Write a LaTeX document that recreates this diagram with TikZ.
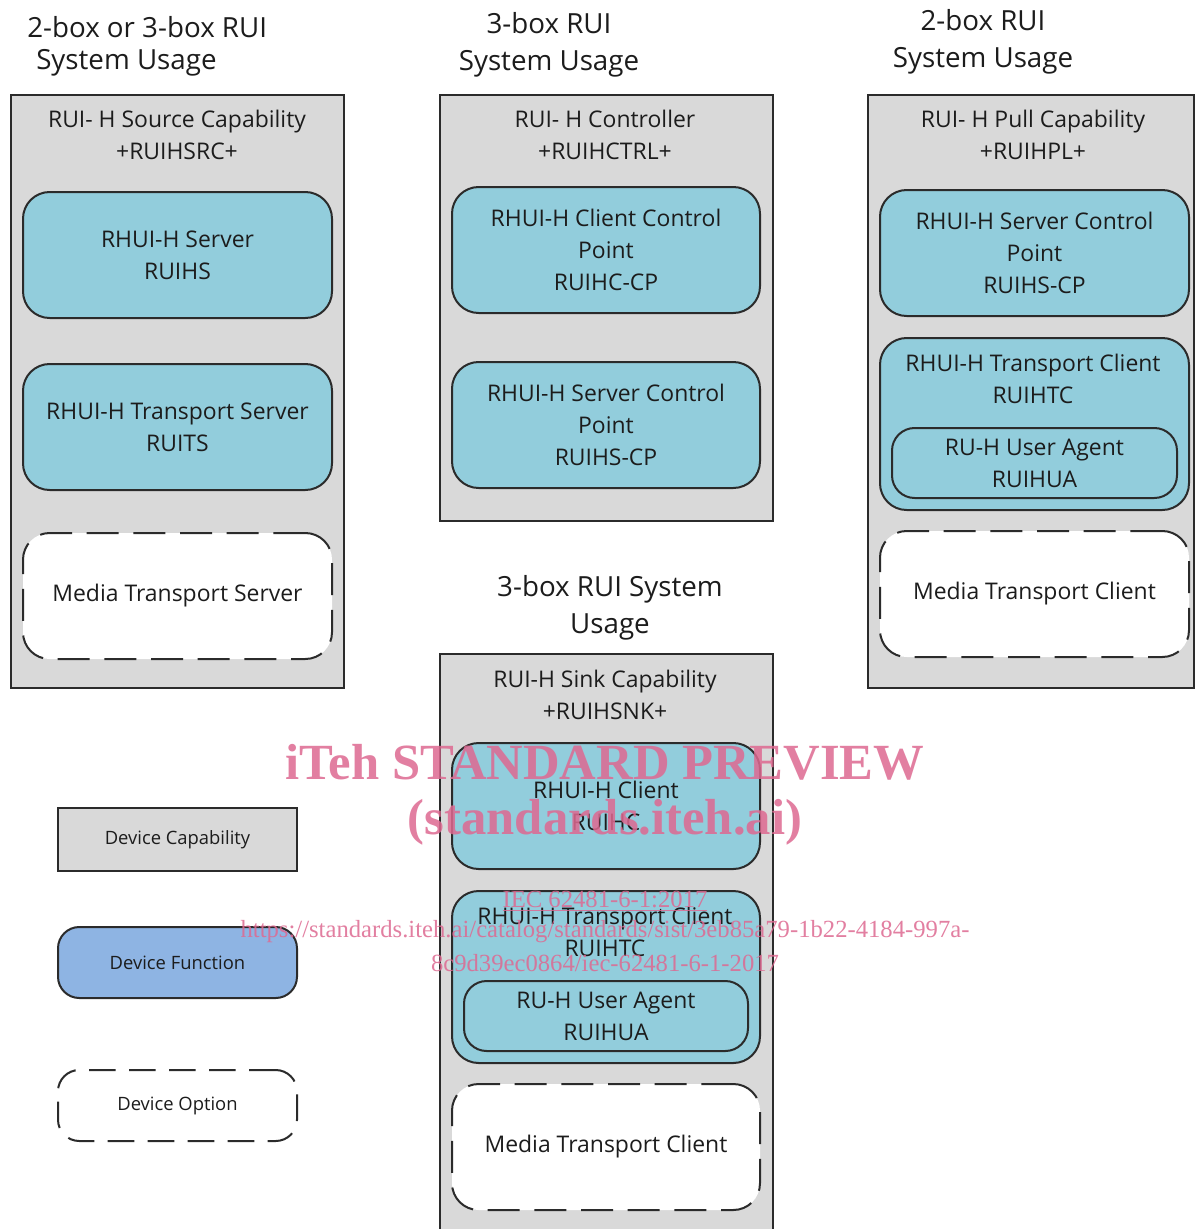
\documentclass[tikz,border=0pt]{standalone}
\usepackage{fontspec}
\setmainfont{Open Sans}
\newfontfamily\wmfont{Liberation Serif}
\definecolor{capgray}{HTML}{D9D9D9}
\definecolor{fnteal}{HTML}{92CDDC}
\definecolor{fnblue}{HTML}{8EB4E3}
\definecolor{edge}{HTML}{2B2B2B}
\definecolor{txt}{HTML}{1C1C1C}
\definecolor{wm}{RGB}{222,105,145}
\begin{document}
\begin{tikzpicture}[x=0.75pt,y=-0.75pt,
  wh/.style 2 args={minimum width=#1*0.75pt, minimum height=#2*0.75pt, inner sep=0pt},
  capbox/.style={draw=edge, line width=1.2pt, fill=capgray, rectangle},
  fnbox/.style={draw=edge, line width=1.5pt, fill=fnteal, rounded corners=20pt},
  subbox/.style={draw=edge, line width=1.5pt, fill=fnteal, rounded corners=17pt},
  optbox/.style={draw=edge, line width=1.5pt, fill=white, rounded corners=20pt, dash pattern=on 24pt off 11pt},
  title/.style={font=\fontsize{20.8}{28}\selectfont, text=txt, align=center, inner sep=0pt},
  head/.style={font=\fontsize{17.2}{24}\selectfont, text=txt, align=center, inner sep=0pt},
  body/.style={font=\fontsize{17.2}{24}\selectfont, text=txt, align=center, inner sep=0pt},
  leg/.style={font=\fontsize{13.8}{16}\selectfont, text=txt, align=center, inner sep=0pt},
  wmbig/.style={font=\wmfont\bfseries\fontsize{38}{44}\selectfont, text=wm, opacity=0.85, inner sep=0pt},
  wmsmall/.style={font=\wmfont\fontsize{18.5}{22}\selectfont, text=wm, opacity=0.85, inner sep=0pt}
]
\useasboundingbox (0,0) rectangle (1195,1229);
\clip (0,0) rectangle (1195,1229);
\fill[white] (0,0) rectangle (1195,1229);

% ---------- Titles ----------
\node[title, anchor=west] (t1a) at (27,27) {2-box or 3-box RUI};
\node[title, anchor=west] (t1b) at (36,63) {System Usage};
\node[title] (t2) at (549,45) {3-box RUI\\System Usage};
\node[title] (t3) at (983,42) {2-box RUI\\System Usage};
\node[title] (t4) at (610,608) {3-box RUI System\\Usage};

% ---------- Capability 1: Source ----------
\node[capbox, wh={333}{593}] (src) at (177.5,391.5) {};
\node[head] (srch) at (177,135) {RUI- H Source Capability\\+RUIHSRC+};
\node[fnbox, wh={309}{126}, body] (ruihs) at (177.5,255) {RHUI-H Server\\RUIHS};
\node[fnbox, wh={309}{126}, body] (ruits) at (177.5,427) {RHUI-H Transport Server\\RUITS};
\node[optbox, wh={309}{126}, body] (mts) at (177.5,596) {Media Transport Server};

% ---------- Controller ----------
\node[capbox, wh={333}{426}] (ctrl) at (606.5,308) {};
\node[head] (ctrlh) at (605,135) {RUI- H Controller\\+RUIHCTRL+};
\node[fnbox, wh={308}{126}, body] (ruihccp) at (606,250) {RHUI-H Client Control\\Point\\RUIHC-CP};
\node[fnbox, wh={308}{126}, body] (ruihscp) at (606,425) {RHUI-H Server Control\\Point\\RUIHS-CP};

% ---------- Pull capability ----------
\node[capbox, wh={326}{593}] (pull) at (1031,391.5) {};
\node[head] (pullh) at (1033,135) {RUI- H Pull Capability\\+RUIHPL+};
\node[fnbox, wh={309}{126}, body] (pcp) at (1034.5,253) {RHUI-H Server Control\\Point\\RUIHS-CP};
\node[fnbox, wh={309}{172}] (ptc) at (1034.5,424) {};
\node[body] (ptcl) at (1033,379) {RHUI-H Transport Client\\RUIHTC};
\node[subbox, wh={285}{70}, body] (pua) at (1034.5,463) {RU-H User Agent\\RUIHUA};
\node[optbox, wh={309}{126}, body] (pmtc) at (1034.5,594) {Media Transport Client};

% ---------- Sink capability ----------
\node[capbox, wh={333}{600}] (snk) at (606.5,954) {};
\node[head] (snkh) at (605,695) {RUI-H Sink Capability\\+RUIHSNK+};
\node[fnbox, wh={308}{126}, body] (ruihc) at (606,806) {RHUI-H Client\\RUIHC};
\node[fnbox, wh={308}{172}] (stc) at (606,977) {};
\node[body] (stcl) at (605,932) {RHUI-H Transport Client\\RUIHTC};
\node[subbox, wh={284}{70}, body] (sua) at (606,1016) {RU-H User Agent\\RUIHUA};
\node[optbox, wh={308}{126}, body] (smtc) at (606,1147) {Media Transport Client};

% ---------- Legend ----------
\node[capbox, wh={239}{63}, leg] (lcap) at (177.5,839.5) {Device Capability};
\node[draw=edge, line width=1.5pt, fill=fnblue, rounded corners=16pt, wh={239}{71}, leg] (lfn) at (177.5,962.5) {Device Function};
\node[draw=edge, line width=1.5pt, fill=white, rounded corners=16pt, dash pattern=on 20pt off 10pt, wh={239}{71}, leg] (lopt) at (177.5,1105.5) {Device Option};

% ---------- Watermark ----------
\node[wmbig] (wm1) at (605,762) {iTeh STANDARD PREVIEW};
\node[wmbig] (wm2) at (605,822) {(standards.iteh.ai)};
\node[wmsmall] (wm3) at (605,901) {\underline{IEC 62481-6-1:2017}};
\node[wmsmall] (wm4) at (605,932) {https://standards.iteh.ai/catalog/standards/sist/3eb85a79-1b22-4184-997a-};
\node[wmsmall] (wm5) at (605,963) {8c9d39ec0864/iec-62481-6-1-2017};
\end{tikzpicture}
\end{document}
